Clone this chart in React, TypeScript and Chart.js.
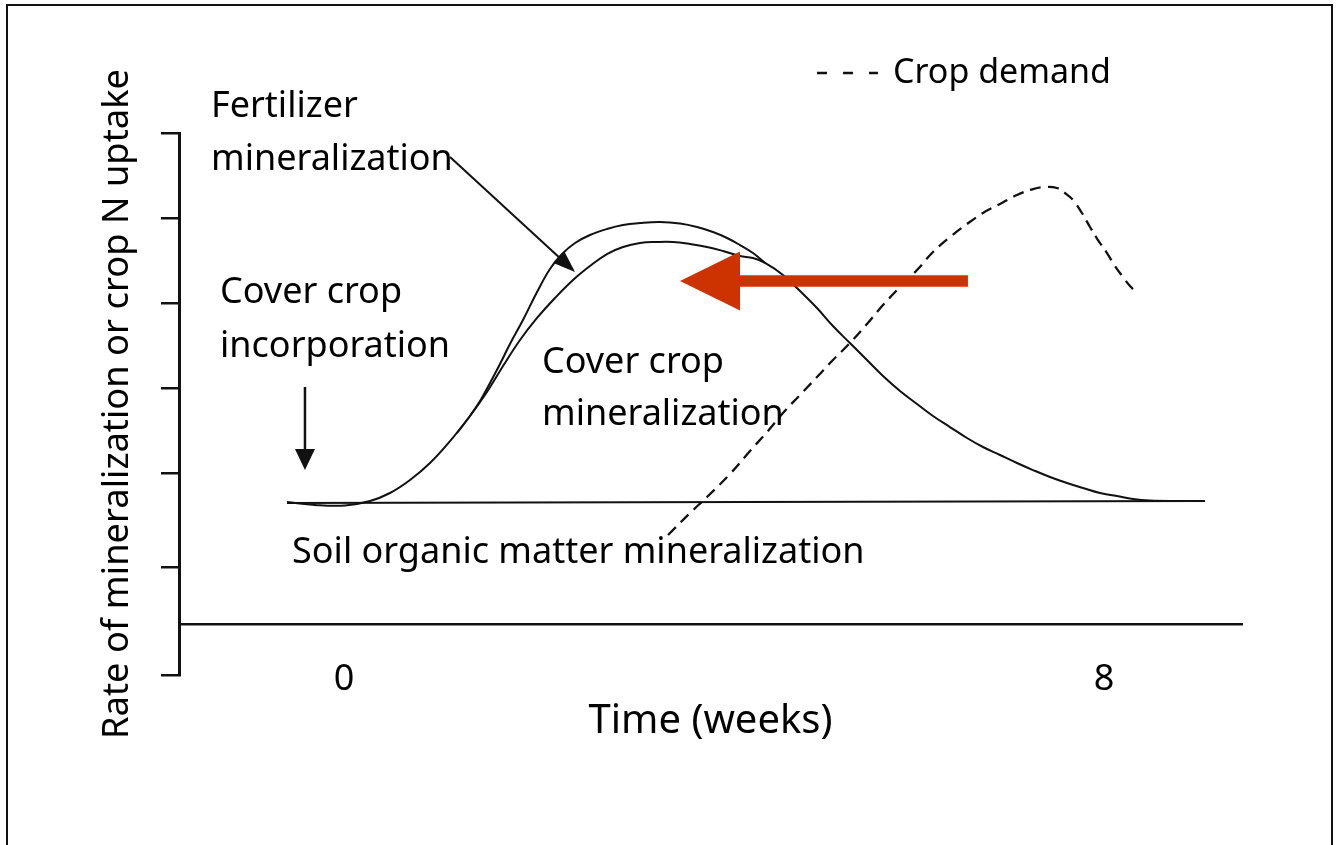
import React, { useEffect, useRef } from 'react';
import { Chart, registerables } from 'chart.js';

Chart.register(...registerables);

// ---- axes (x in weeks, y in arbitrary rate units) ----
const X_MIN = -1.737;
const X_MAX = 9.453;
const X_TICKS = [0, 8];
const Y_MIN = -1.376;
const Y_MAX = 5;
const Y_TICKS = [-1.376, -0.106, 1, 2, 3, 4, 5];
const BASELINE = -0.776; // level of the horizontal time axis line

// ---- series ----
const SOIL_X = [-0.6, 9.063];
const SOIL_Y = [0.647, 0.671];

const COVER_X = [-0.6, -0.305, 0.011, 0.274, 0.484, 0.695, 0.905, 1.116, 1.326, 1.505, 1.674, 1.853, 2.032, 2.221, 2.411, 2.589, 2.768, 2.937, 3.116, 3.295, 3.463, 3.642, 3.821, 3.989, 4.168, 4.305, 4.432, 4.621, 4.8, 4.979, 5.147, 5.326, 5.505, 5.674, 5.853, 6.032, 6.2, 6.379, 6.558, 6.726, 6.905, 7.084, 7.253, 7.432, 7.611, 7.779, 7.958, 8.137, 8.305, 8.484, 8.8, 9.063];
const COVER_Y = [0.659, 0.624, 0.618, 0.671, 0.765, 0.918, 1.118, 1.376, 1.671, 1.953, 2.259, 2.565, 2.824, 3.059, 3.271, 3.435, 3.576, 3.659, 3.706, 3.718, 3.718, 3.694, 3.659, 3.612, 3.553, 3.529, 3.471, 3.329, 3.141, 2.941, 2.729, 2.529, 2.329, 2.141, 1.965, 1.812, 1.671, 1.541, 1.412, 1.306, 1.212, 1.118, 1.035, 0.953, 0.882, 0.824, 0.765, 0.729, 0.694, 0.676, 0.671, 0.671];

const FERT_X = [1.189, 1.326, 1.432, 1.537, 1.642, 1.747, 1.884, 2.032, 2.168, 2.295, 2.432, 2.589, 2.768, 2.937, 3.116, 3.326, 3.537, 3.716, 3.884, 4.032, 4.168, 4.305, 4.432];
const FERT_Y = [1.471, 1.671, 1.847, 2.059, 2.282, 2.518, 2.8, 3.129, 3.4, 3.576, 3.706, 3.8, 3.871, 3.918, 3.941, 3.953, 3.935, 3.894, 3.835, 3.765, 3.682, 3.588, 3.471];

const DEMAND_X = [3.411, 3.642, 3.821, 4.063, 4.274, 4.453, 4.621, 4.8, 4.979, 5.147, 5.326, 5.505, 5.674, 5.853, 6.032, 6.2, 6.379, 6.558, 6.726, 6.905, 7.084, 7.253, 7.379, 7.505, 7.589, 7.674, 7.768, 7.853, 7.937, 8.032, 8.116, 8.2, 8.274, 8.347];
const DEMAND_Y = [0.271, 0.529, 0.718, 0.988, 1.259, 1.482, 1.706, 1.918, 2.129, 2.329, 2.529, 2.753, 2.976, 3.188, 3.388, 3.6, 3.776, 3.929, 4.059, 4.165, 4.271, 4.341, 4.365, 4.353, 4.294, 4.212, 4.059, 3.894, 3.741, 3.588, 3.435, 3.306, 3.2, 3.118];

// ---- annotations (data coordinates) ----
const LABELS = [
  { text: 'Fertilizer', x: -1.4, y: 5.188 },
  { text: 'mineralization', x: -1.4, y: 4.565 },
  { text: 'Cover crop', x: -1.305, y: 3.0 },
  { text: 'incorporation', x: -1.305, y: 2.365 },
  { text: 'Cover crop', x: 2.084, y: 2.176 },
  { text: 'mineralization', x: 2.084, y: 1.565 },
  { text: 'Soil organic matter mineralization', x: -0.547, y: -0.059 },
];
const LEGEND_LABEL = { text: 'Crop demand', x: 5.779, y: 5.588 };
const LEGEND_DASH = { x1: 4.979, x2: 5.621, y: 5.706 };
const FERT_ARROW = { x1: 1.116, y1: 4.718, x2: 2.432, y2: 3.365 };
const INCORP_ARROW = { x1: -0.411, y1: 2.012, x2: -0.411, y2: 1.035 };
const SHIFT_ARROW = { x1: 6.568, y1: 3.259, x2: 3.537, y2: 3.259 };

const zip = (xs: number[], ys: number[]) => xs.map((x, i) => ({ x, y: ys[i] }));

const FONT = '"Noto Sans", "DejaVu Sans", sans-serif';
const INK = '#111111';

function arrow(ctx: CanvasRenderingContext2D, x1: number, y1: number, x2: number, y2: number,
  headLen: number, headHalf: number, width: number, color: string) {
  const ang = Math.atan2(y2 - y1, x2 - x1);
  const bx = x2 - Math.cos(ang) * headLen;
  const by = y2 - Math.sin(ang) * headLen;
  ctx.save();
  ctx.strokeStyle = color;
  ctx.fillStyle = color;
  ctx.lineWidth = width;
  ctx.lineCap = 'butt';
  ctx.beginPath();
  ctx.moveTo(x1, y1);
  ctx.lineTo(bx + Math.cos(ang) * 1, by + Math.sin(ang) * 1);
  ctx.stroke();
  ctx.beginPath();
  ctx.moveTo(x2, y2);
  ctx.lineTo(bx + Math.cos(ang + Math.PI / 2) * headHalf, by + Math.sin(ang + Math.PI / 2) * headHalf);
  ctx.lineTo(bx - Math.cos(ang + Math.PI / 2) * headHalf, by - Math.sin(ang + Math.PI / 2) * headHalf);
  ctx.closePath();
  ctx.fill();
  ctx.restore();
}

const annotationPlugin = {
  id: 'annotations',
  beforeDraw(chart: any) {
    const { ctx } = chart;
    ctx.save();
    ctx.fillStyle = '#ffffff';
    ctx.fillRect(0, 0, chart.width, chart.height);
    ctx.strokeStyle = INK;
    ctx.lineWidth = 2;
    ctx.beginPath();
    ctx.moveTo(7, chart.height + 2);
    ctx.lineTo(7, 5);
    ctx.lineTo(1332, 5);
    ctx.lineTo(1332, chart.height + 2);
    ctx.stroke();
    ctx.restore();
  },
  afterDatasetsDraw(chart: any) {
    const { ctx, scales } = chart;
    const px = (v: number) => scales.x.getPixelForValue(v);
    const py = (v: number) => scales.y.getPixelForValue(v);
    ctx.save();
    ctx.fillStyle = '#000';
    ctx.font = `36px ${FONT}`;
    ctx.textBaseline = 'alphabetic';
    ctx.textAlign = 'left';
    LABELS.forEach((l) => ctx.fillText(l.text, px(l.x), py(l.y)));
    ctx.font = `34px ${FONT}`;
    ctx.fillText(LEGEND_LABEL.text, px(LEGEND_LABEL.x), py(LEGEND_LABEL.y));
    // legend dashes
    ctx.strokeStyle = INK;
    ctx.lineWidth = 2.5;
    ctx.setLineDash([10, 16]);
    ctx.beginPath();
    ctx.moveTo(px(LEGEND_DASH.x1), py(LEGEND_DASH.y));
    ctx.lineTo(px(LEGEND_DASH.x2), py(LEGEND_DASH.y));
    ctx.stroke();
    ctx.setLineDash([]);
    ctx.restore();

    arrow(ctx, px(FERT_ARROW.x1), py(FERT_ARROW.y1), px(FERT_ARROW.x2), py(FERT_ARROW.y2), 22, 8, 2, INK);
    arrow(ctx, px(INCORP_ARROW.x1), py(INCORP_ARROW.y1), px(INCORP_ARROW.x2), py(INCORP_ARROW.y2), 21, 10, 2.5, INK);
    arrow(ctx, px(SHIFT_ARROW.x1), py(SHIFT_ARROW.y1), px(SHIFT_ARROW.x2), py(SHIFT_ARROW.y2), 60, 29.5, 11.5, '#cc3300');
  },
};

export default function App() {
  const ref = useRef<HTMLCanvasElement>(null);
  useEffect(() => {
    const canvas = ref.current;
    if (!canvas) return;
    Chart.defaults.font.family = FONT;
    Chart.defaults.color = '#000';
    const lineBase = {
      borderColor: INK,
      borderWidth: 2,
      pointRadius: 0,
      fill: false,
      tension: 0.4,
    };
    const chart = new Chart(canvas, {
      type: 'line',
      data: {
        datasets: [
          { ...lineBase, label: 'Soil organic matter mineralization', data: zip(SOIL_X, SOIL_Y), tension: 0 },
          { ...lineBase, label: 'Cover crop mineralization', data: zip(COVER_X, COVER_Y) },
          { ...lineBase, label: 'Fertilizer mineralization', data: zip(FERT_X, FERT_Y) },
          { ...lineBase, label: 'Crop demand', data: zip(DEMAND_X, DEMAND_Y), borderDash: [11, 7], borderWidth: 2.3 },
        ],
      },
      options: {
        responsive: false,
        animation: false,
        devicePixelRatio: 1,
        layout: { padding: { left: 69, right: 95, top: 133, bottom: 170 } },
        plugins: { legend: { display: false }, tooltip: { enabled: false } },
        events: [],
        scales: {
          x: {
            type: 'linear',
            min: X_MIN,
            max: X_MAX,
            position: { y: BASELINE } as any,
            afterBuildTicks: (s: any) => { s.ticks = X_TICKS.map((v) => ({ value: v })); },
            grid: { display: false, drawTicks: false },
            border: { display: true, color: INK, width: 2.5 },
            ticks: { padding: 34, font: { size: 36 }, color: '#000', autoSkip: false, maxRotation: 0, callback: (v: any) => String(v) },
            title: { display: true, text: 'Time (weeks)', font: { size: 40 }, color: '#000', padding: { top: -38, bottom: 0 } },
          },
          y: {
            type: 'linear',
            min: Y_MIN,
            max: Y_MAX,
            afterBuildTicks: (s: any) => { s.ticks = Y_TICKS.map((v) => ({ value: v })); },
            afterFit: (s: any) => { s.width = 110; },
            grid: { display: true, drawOnChartArea: false, drawTicks: true, tickLength: 18, color: INK, lineWidth: 2.5 },
            border: { display: true, color: INK, width: 3 },
            ticks: { display: false },
            title: { display: true, text: 'Rate of mineralization or crop N uptake', font: { size: 36.3 }, color: '#000', padding: { top: 27, bottom: 0 } },
          },
        },
      },
      plugins: [annotationPlugin],
    });
    return () => chart.destroy();
  }, []);
  return (
    <div style={{ position: 'absolute', left: 0, top: 0, width: 1337, height: 845, background: '#fff' }}>
      <canvas ref={ref} width={1337} height={845} style={{ display: 'block', width: 1337, height: 845 }} />
    </div>
  );
}
